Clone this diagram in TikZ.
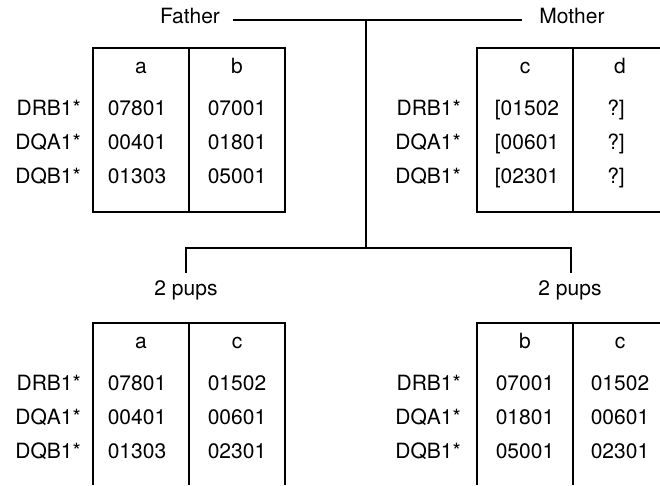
\documentclass[tikz,border=0pt]{standalone}
\usepackage{fontspec}
\setmainfont{TeX Gyre Heros}
\begin{document}
\begin{tikzpicture}[x=1pt,y=-1pt,
  every node/.style={font=\fontsize{21}{25}\selectfont, inner sep=0pt, text height=0.72em, text depth=0pt},
  ln/.style={line width=1.1pt, black},
  lab/.style={anchor=east}]
\useasboundingbox (0,0) rectangle (660,485);
% headings
\node (father) at (190,20) {Father};
\node (mother) at (572,20) {Mother};
\coordinate (junc) at (366,20);
\coordinate (split) at (366,248);
\coordinate (lsplit) at (186,248);
\coordinate (rsplit) at (571,248);
\coordinate (ldrop) at (186,273);
\coordinate (rdrop) at (571,273);
\node (pupsL) at (186,292) {2 pups};
\node (pupsR) at (570,292) {2 pups};
\draw[ln] ([xshift=13pt]father.east) -- ([xshift=-17pt]mother.west);
\draw[ln] (junc) -- (split);
\draw[ln] (ldrop) -- (lsplit) -- (rsplit) -- (rdrop);
% Father box
\draw[ln] (93,48) rectangle (285,212);
\draw[ln] (189,48) -- (189,212);
\node (fa) at (141,70) {a};
\node (fb) at (237,70) {b};
\node[lab] (fl1) at (81,112) {DRB1*};
\node[lab] (fl2) at (81,146) {DQA1*};
\node[lab] (fl3) at (81,180) {DQB1*};
\node (fa1) at (137,112) {07801};
\node (fa2) at (137,146) {00401};
\node (fa3) at (137,180) {01303};
\node (fb1) at (237,112) {07001};
\node (fb2) at (237,146) {01801};
\node (fb3) at (237,180) {05001};
% Mother box
\draw[ln] (660,48) -- (477,48) -- (477,212) -- (660,212);
\draw[ln] (573,48) -- (573,212);
\node (mc) at (525,70) {c};
\node (md) at (620,70) {d};
\node[lab] (ml1) at (461,112) {DRB1*};
\node[lab] (ml2) at (461,146) {DQA1*};
\node[lab] (ml3) at (461,180) {DQB1*};
\node (mc1) at (527,112) {[01502};
\node (mc2) at (527,146) {[00601};
\node (mc3) at (527,180) {[02301};
\node (md1) at (616,112) {?]};
\node (md2) at (616,146) {?]};
\node (md3) at (616,180) {?]};
% Pups left box
\draw[ln] (93,485) -- (93,323) -- (285,323) -- (285,485);
\draw[ln] (189,323) -- (189,485);
\node (la) at (141,345) {a};
\node (lc) at (237,345) {c};
\node[lab] (ll1) at (81,387) {DRB1*};
\node[lab] (ll2) at (81,421) {DQA1*};
\node[lab] (ll3) at (81,455) {DQB1*};
\node (la1) at (137,387) {07801};
\node (la2) at (137,421) {00401};
\node (la3) at (137,455) {01303};
\node (lc1) at (237,387) {01502};
\node (lc2) at (237,421) {00601};
\node (lc3) at (237,455) {02301};
% Pups right box
\draw[ln] (477,485) -- (477,323) -- (660,323);
\draw[ln] (573,323) -- (573,485);
\node (rb) at (525,345) {b};
\node (rc) at (620,345) {c};
\node[lab] (rl1) at (461,387) {DRB1*};
\node[lab] (rl2) at (461,421) {DQA1*};
\node[lab] (rl3) at (461,455) {DQB1*};
\node (rb1) at (525,387) {07001};
\node (rb2) at (525,421) {01801};
\node (rb3) at (525,455) {05001};
\node (rc1) at (620,387) {01502};
\node (rc2) at (620,421) {00601};
\node (rc3) at (620,455) {02301};
\end{tikzpicture}
\end{document}
